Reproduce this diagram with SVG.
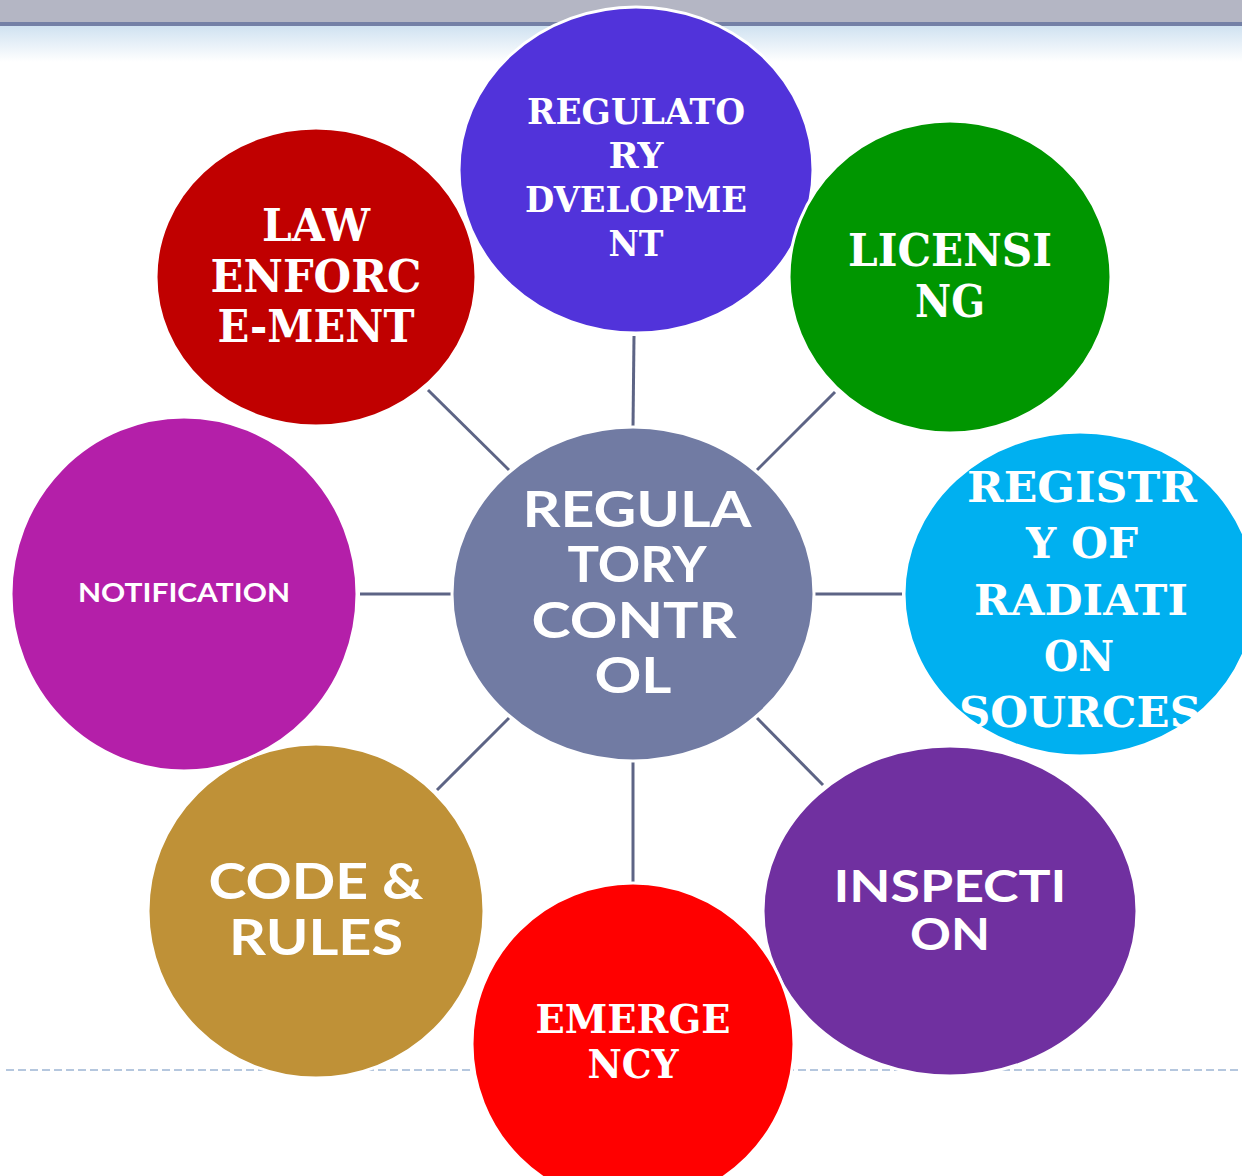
<svg xmlns="http://www.w3.org/2000/svg" width="1242" height="1176" viewBox="0 0 1242 1176">
<defs>
<linearGradient id="hdr" x1="0" y1="0" x2="0" y2="1">
<stop offset="0" stop-color="#d0e2f1"/>
<stop offset="1" stop-color="#ffffff"/>
</linearGradient>
</defs>
<style>
.node ellipse{stroke:#ffffff;stroke-width:3}
.serif{font-family:"DejaVu Serif","Liberation Serif",serif;font-weight:bold;fill:#ffffff;text-anchor:middle}
.sans{font-family:Lato,"Open Sans","Liberation Sans",sans-serif;font-weight:bold;fill:#ffffff;text-anchor:middle}
.conn line{stroke:#5d6485;stroke-width:3}
</style>
<rect x="0" y="0" width="1242" height="1176" fill="#ffffff"/>
<rect x="0" y="0" width="1242" height="22" fill="#b4b6c4"/>
<rect x="0" y="22" width="1242" height="4" fill="#7480a6"/>
<rect x="0" y="26" width="1242" height="36" fill="url(#hdr)"/>
<line x1="6" y1="1070" x2="1242" y2="1070" stroke="#9db5d3" stroke-width="1.5" stroke-dasharray="8 4"/>
<g id="connectors" class="conn">
<line x1="634" y1="336" x2="633" y2="427"/>
<line x1="428" y1="390" x2="509" y2="470"/>
<line x1="835" y1="392" x2="757" y2="470"/>
<line x1="360" y1="594" x2="451" y2="594"/>
<line x1="815" y1="594" x2="902" y2="594"/>
<line x1="509" y1="718" x2="437" y2="790"/>
<line x1="757" y1="718" x2="823" y2="785"/>
<line x1="633" y1="762" x2="633" y2="882"/>
</g>
<g id="node-regulatory-development" class="node">
<ellipse cx="636" cy="170" rx="177" ry="163" fill="#5133da"/>
<text class="serif" font-size="35" x="636" y="124" textLength="218" lengthAdjust="spacingAndGlyphs">REGULATO</text>
<text class="serif" font-size="35" x="636" y="168" textLength="55" lengthAdjust="spacingAndGlyphs">RY</text>
<text class="serif" font-size="35" x="636" y="212" textLength="222" lengthAdjust="spacingAndGlyphs">DVELOPME</text>
<text class="serif" font-size="35" x="636" y="256" textLength="55" lengthAdjust="spacingAndGlyphs">NT</text>
</g>
<g id="node-law-enforcement" class="node">
<ellipse cx="316" cy="277" rx="160" ry="149" fill="#c00000"/>
<text class="serif" font-size="44" x="316" y="241" textLength="108" lengthAdjust="spacingAndGlyphs">LAW</text>
<text class="serif" font-size="44" x="316" y="292" textLength="211" lengthAdjust="spacingAndGlyphs">ENFORC</text>
<text class="serif" font-size="44" x="316" y="342" textLength="197" lengthAdjust="spacingAndGlyphs">E-MENT</text>
</g>
<g id="node-licensing" class="node">
<ellipse cx="950" cy="277" rx="161" ry="156" fill="#009600"/>
<text class="serif" font-size="44" x="950" y="266" textLength="204" lengthAdjust="spacingAndGlyphs">LICENSI</text>
<text class="serif" font-size="44" x="950" y="317" textLength="70" lengthAdjust="spacingAndGlyphs">NG</text>
</g>
<g id="node-registry" class="node">
<ellipse cx="1080" cy="594" rx="176" ry="162" fill="#00b0f0"/>
<text class="serif" font-size="43" x="1082" y="502" textLength="230" lengthAdjust="spacingAndGlyphs">REGISTR</text>
<text class="serif" font-size="43" x="1082" y="558" textLength="112" lengthAdjust="spacingAndGlyphs">Y OF</text>
<text class="serif" font-size="43" x="1081" y="615" textLength="214" lengthAdjust="spacingAndGlyphs">RADIATI</text>
<text class="serif" font-size="43" x="1079" y="671" textLength="70" lengthAdjust="spacingAndGlyphs">ON</text>
<text class="serif" font-size="43" x="1080" y="727" textLength="242" lengthAdjust="spacingAndGlyphs">SOURCES</text>
</g>
<g id="node-inspection" class="node">
<ellipse cx="950" cy="911" rx="187" ry="165" fill="#7030a0"/>
<text class="sans" font-size="43" x="950" y="902" textLength="233" lengthAdjust="spacingAndGlyphs">INSPECTI</text>
<text class="sans" font-size="43" x="950" y="950" textLength="80" lengthAdjust="spacingAndGlyphs">ON</text>
</g>
<g id="node-code-rules" class="node">
<ellipse cx="316" cy="911" rx="168" ry="167" fill="#bf9137"/>
<text class="sans" font-size="50" x="316" y="899" textLength="215" lengthAdjust="spacingAndGlyphs">CODE &amp;</text>
<text class="sans" font-size="50" x="316" y="955" textLength="174" lengthAdjust="spacingAndGlyphs">RULES</text>
</g>
<g id="node-notification" class="node">
<ellipse cx="184" cy="594" rx="173" ry="177" fill="#b41fa9"/>
<text class="sans" font-size="26" x="184" y="602" textLength="212" lengthAdjust="spacingAndGlyphs">NOTIFICATION</text>
</g>
<g id="node-emergency" class="node">
<ellipse cx="633" cy="1044" rx="161" ry="161" fill="#ff0000"/>
<text class="serif" font-size="40" x="633" y="1033" textLength="195" lengthAdjust="spacingAndGlyphs">EMERGE</text>
<text class="serif" font-size="40" x="633" y="1078" textLength="91" lengthAdjust="spacingAndGlyphs">NCY</text>
</g>
<g id="node-regulatory-control" class="node">
<ellipse cx="633" cy="594" rx="181" ry="167" fill="#717ba3"/>
<text class="sans" font-size="49" x="637" y="527" textLength="229" lengthAdjust="spacingAndGlyphs">REGULA</text>
<text class="sans" font-size="49" x="637" y="582" textLength="139" lengthAdjust="spacingAndGlyphs">TORY</text>
<text class="sans" font-size="49" x="634" y="638" textLength="205" lengthAdjust="spacingAndGlyphs">CONTR</text>
<text class="sans" font-size="49" x="633" y="693" textLength="77" lengthAdjust="spacingAndGlyphs">OL</text>
</g>
</svg>
